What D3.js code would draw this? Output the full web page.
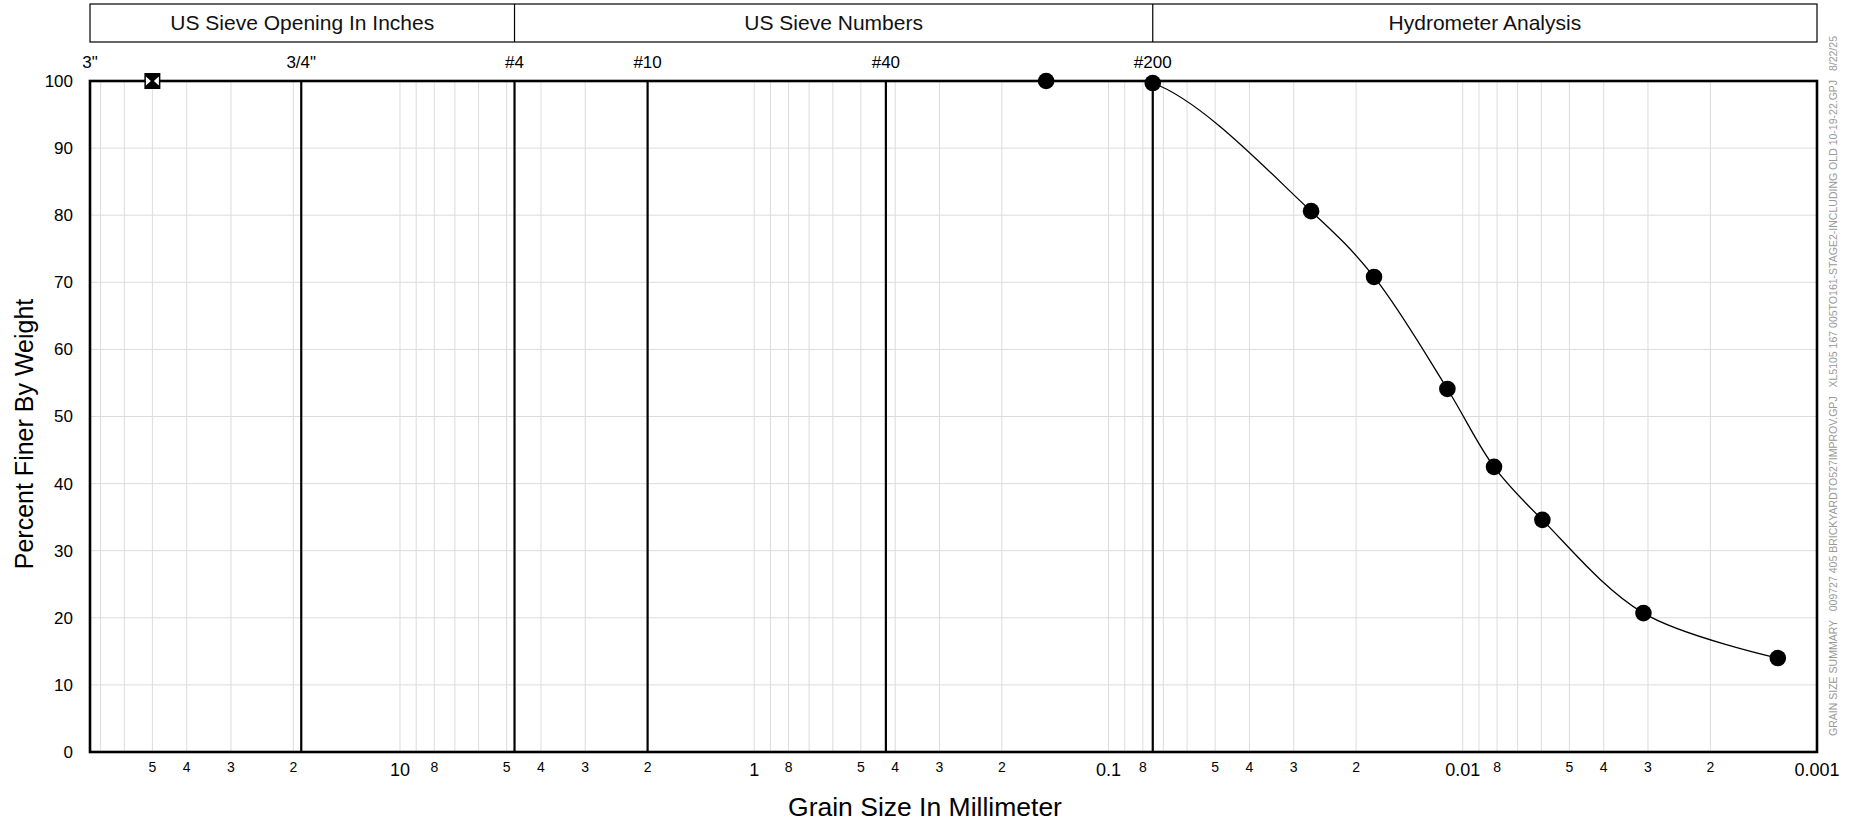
<!DOCTYPE html>
<html lang="en">
<head>
    <meta charset="UTF-8">
    <title>Grain Size Distribution</title>
    <script type="text/javascript" src="https://cdn.jsdelivr.net/npm/d3@7"></script>
    <style>
        body { margin: 0; background: #fff; }
        svg { font-family: "Liberation Sans", Arial, sans-serif; }
        .grid line { stroke: #dcdcdc; stroke-width: 1; }
        .sieve line { stroke: #000; stroke-width: 2.2; }
        .frame { fill: none; stroke: #000; stroke-width: 2.6; }
        .header rect, .header line { fill: none; stroke: #000; stroke-width: 1.2; }
    </style>
</head>
<body>
<svg id="chart" width="1858" height="821"></svg>
<script>
    // sieve openings (mm) and their labels along the top
    var sieveSizes = [75, 19.0, 4.75, 2.0, 0.425, 0.075];
    var sieveLabels = ['3"', '3/4"', '#4', '#10', '#40', '#200'];

    // header bands: [from mm, to mm, title]
    var bandStart = [75, 4.75, 0.075];
    var bandEnd = [4.75, 0.075, 0.001];
    var bandTitles = ["US Sieve Opening In Inches", "US Sieve Numbers", "Hydrometer Analysis"];

    // x axis labels
    var decades = [10, 1, 0.1, 0.01, 0.001];
    var decadeLabels = ["10", "1", "0.1", "0.01", "0.001"];
    var minorMultipliers = [2, 3, 4, 5, 8];
    var yTicks = [0, 10, 20, 30, 40, 50, 60, 70, 80, 90, 100];

    // measured data
    var grainSize = [0.15, 0.075, 0.0268, 0.0178, 0.01105, 0.00816, 0.00596, 0.00309, 0.00129];
    var percentFiner = [100, 99.7, 80.6, 70.8, 54.1, 42.5, 34.6, 20.7, 14.0];
    // largest particle marker
    var maxSize = [50];
    var maxPercent = [100];

    var footer = "GRAIN SIZE SUMMARY   009727 405 BRICKYARDTO527IMPROV.GPJ   XL5105 167 005TO161-STAGE2-INCLUDING OLD 10-19-22.GPJ   8/22/25";

    var svg = d3.select("svg#chart");
    var plotLeft = 90, plotRight = 1817, plotTop = 81, plotBottom = 752;

    var x = d3.scaleLog().domain([75, 0.001]).range([plotLeft, plotRight]);
    var y = d3.scaleLinear().domain([0, 100]).range([plotBottom, plotTop]);

    svg.append("defs").append("clipPath").attr("id", "plotClip")
        .append("rect")
        .attr("x", plotLeft).attr("y", plotTop)
        .attr("width", plotRight - plotLeft).attr("height", plotBottom - plotTop);

    // grid
    var gridX = [];
    decades.forEach(function (d) {
        for (var m = 1; m <= 9; m++) {
            var v = d * m;
            if (v < 75 && v > 0.001) gridX.push(v);
        }
    });

    var grid = svg.append("g").attr("class", "grid");
    grid.selectAll("line.gx")
        .data(gridX)
        .enter().append("line")
        .attr("class", "gx")
        .attr("x1", function (d) { return x(d); })
        .attr("x2", function (d) { return x(d); })
        .attr("y1", plotTop).attr("y2", plotBottom);
    grid.selectAll("line.gy")
        .data(yTicks)
        .enter().append("line")
        .attr("class", "gy")
        .attr("x1", plotLeft).attr("x2", plotRight)
        .attr("y1", function (d) { return y(d); })
        .attr("y2", function (d) { return y(d); });

    // heavy sieve lines
    svg.append("g").attr("class", "sieve")
        .selectAll("line")
        .data(sieveSizes.slice(1))
        .enter().append("line")
        .attr("x1", function (d) { return x(d); })
        .attr("x2", function (d) { return x(d); })
        .attr("y1", plotTop).attr("y2", plotBottom);

    // header boxes
    var header = svg.append("g").attr("class", "header");
    header.append("rect")
        .attr("x", plotLeft).attr("y", 4)
        .attr("width", plotRight - plotLeft).attr("height", 38);
    header.selectAll("line")
        .data(bandStart.slice(1))
        .enter().append("line")
        .attr("x1", function (d) { return x(d); })
        .attr("x2", function (d) { return x(d); })
        .attr("y1", 4).attr("y2", 42);
    header.selectAll("text")
        .data(bandTitles)
        .enter().append("text")
        .attr("x", function (d, i) { return (x(bandStart[i]) + x(bandEnd[i])) / 2; })
        .attr("y", 30)
        .attr("text-anchor", "middle")
        .style("font-size", "21px")
        .style("fill", "#111")
        .text(function (d) { return d; });

    // sieve labels
    svg.append("g").selectAll("text")
        .data(sieveSizes)
        .enter().append("text")
        .attr("x", function (d) { return x(d); })
        .attr("y", 68)
        .attr("text-anchor", "middle")
        .style("font-size", "17px")
        .text(function (d, i) { return sieveLabels[i]; });

    // y tick labels
    svg.append("g").selectAll("text")
        .data(yTicks)
        .enter().append("text")
        .attr("x", plotLeft - 17)
        .attr("y", function (d) { return y(d); })
        .attr("dy", "0.35em")
        .attr("text-anchor", "end")
        .style("font-size", "17px")
        .text(function (d) { return d; });

    // x tick labels
    var minorTicks = [];
    decades.forEach(function (d) {
        minorMultipliers.forEach(function (m) {
            if (d * m < 75) minorTicks.push({v: d * m, t: String(m)});
        });
    });
    svg.append("g").selectAll("text")
        .data(minorTicks)
        .enter().append("text")
        .attr("x", function (d) { return x(d.v); })
        .attr("y", 772)
        .attr("text-anchor", "middle")
        .style("font-size", "14px")
        .text(function (d) { return d.t; });
    svg.append("g").selectAll("text")
        .data(decades)
        .enter().append("text")
        .attr("x", function (d) { return x(d); })
        .attr("y", 776)
        .attr("text-anchor", "middle")
        .style("font-size", "18px")
        .text(function (d, i) { return decadeLabels[i]; });

    // axis titles
    svg.append("text")
        .attr("x", 925).attr("y", 816)
        .attr("text-anchor", "middle")
        .style("font-size", "26.5px")
        .text("Grain Size In Millimeter");
    svg.append("text")
        .attr("transform", "translate(33,434) rotate(-90)")
        .attr("text-anchor", "middle")
        .style("font-size", "25px")
        .text("Percent Finer By Weight");

    // curve
    var pts = grainSize.map(function (g, i) { return [x(g), y(percentFiner[i])]; });
    svg.append("path")
        .attr("clip-path", "url(#plotClip)")
        .attr("d", d3.line().curve(d3.curveCatmullRom.alpha(0.5))(pts))
        .attr("fill", "none")
        .attr("stroke", "#000")
        .attr("stroke-width", 1.3);

    // frame
    svg.append("rect").attr("class", "frame")
        .attr("x", plotLeft).attr("y", plotTop)
        .attr("width", plotRight - plotLeft).attr("height", plotBottom - plotTop);

    // points
    svg.append("g").selectAll("circle")
        .data(grainSize)
        .enter().append("circle")
        .attr("cx", function (d) { return x(d); })
        .attr("cy", function (d, i) { return y(percentFiner[i]); })
        .attr("r", 8.3)
        .attr("fill", "#000");

    // largest particle: square with bowtie
    var sq = svg.append("g").selectAll("g")
        .data(maxSize)
        .enter().append("g")
        .attr("transform", function (d, i) { return "translate(" + x(d) + "," + y(maxPercent[i]) + ")"; });
    sq.append("rect")
        .attr("x", -8).attr("y", -8).attr("width", 16).attr("height", 16)
        .attr("fill", "#000");
    sq.append("path")
        .attr("d", "M-6.5,-4.5L-1.5,0L-6.5,4.5Z M6.5,-4.5L1.5,0L6.5,4.5Z")
        .attr("fill", "#fff");

    // footer stamp
    svg.append("text")
        .attr("transform", "translate(1837,736) rotate(-90)")
        .attr("xml:space", "preserve")
        .style("white-space", "pre")
        .style("font-size", "10.5px")
        .style("fill", "#999")
        .attr("textLength", 700)
        .attr("lengthAdjust", "spacingAndGlyphs")
        .text(footer);
</script>
</body>
</html>
